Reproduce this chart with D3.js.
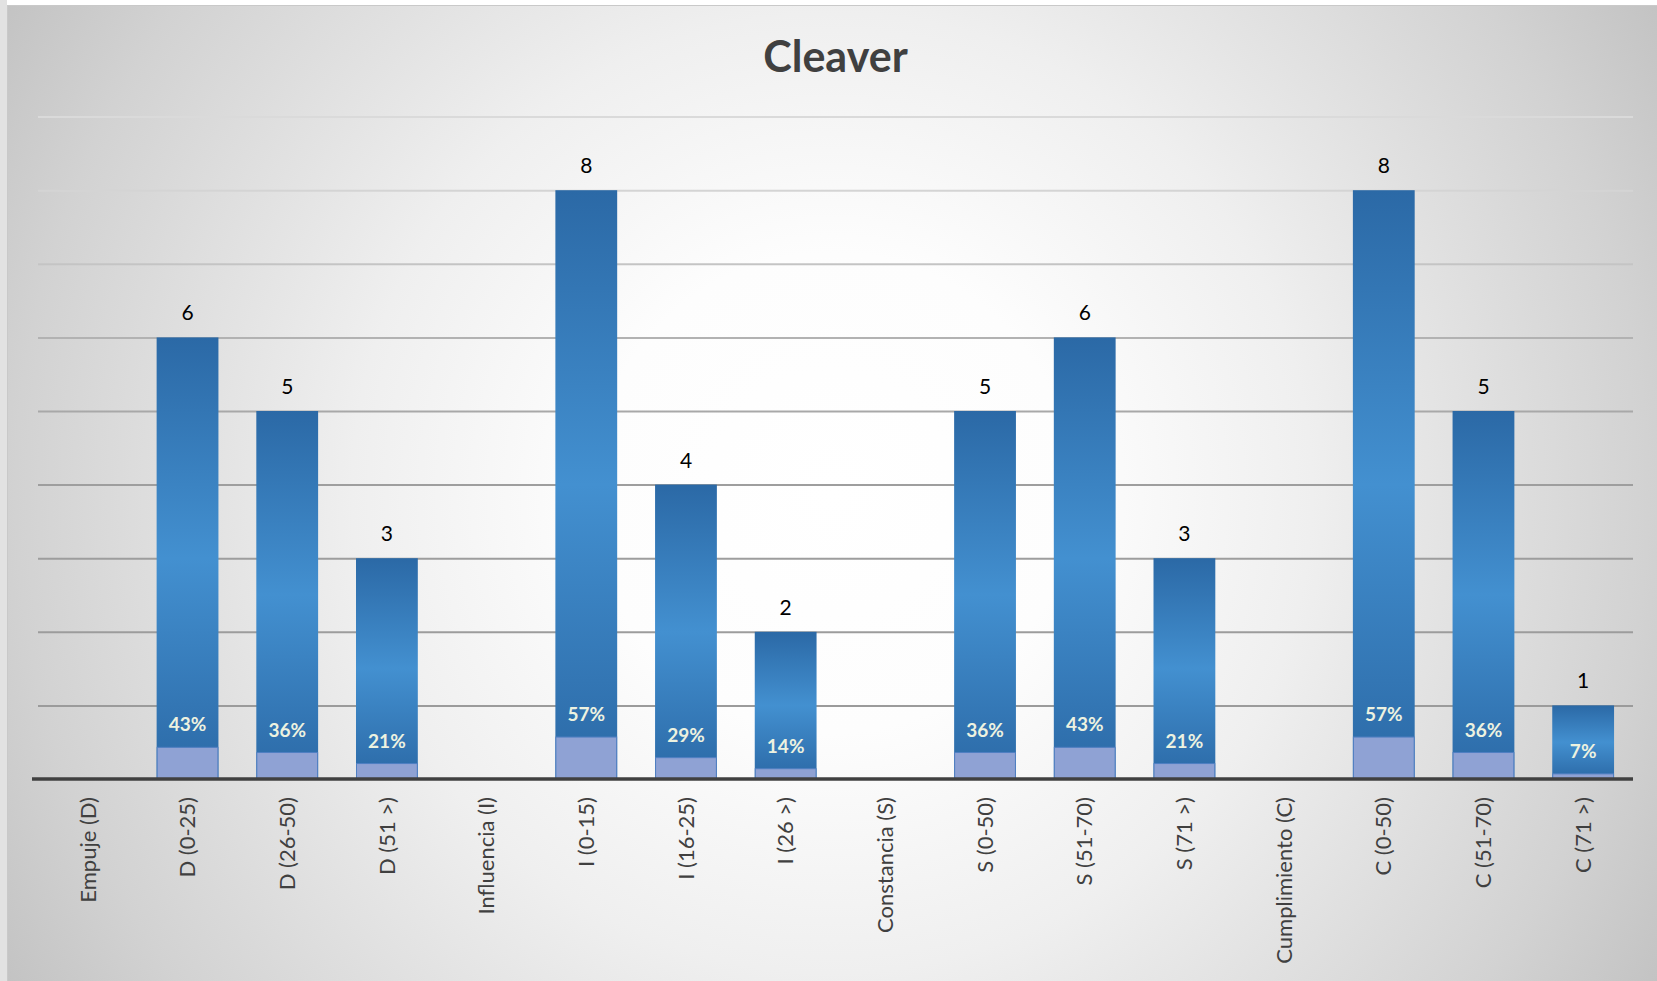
<!DOCTYPE html>
<html>
<head>
<meta charset="utf-8">
<script src="https://cdn.jsdelivr.net/npm/d3@7"></script>
<style>
  html, body { margin: 0; padding: 0; background: #ffffff; }
  svg { display: block; }
  text { font-family: Lato, "Open Sans", "Liberation Sans", sans-serif; }
</style>
</head>
<body>
<svg id="chart" width="1657" height="981"></svg>
<script>
// Cleaver profile: counts per range and their share within each factor
const categories = [
  "Empuje (D)", "D (0-25)", "D (26-50)", "D (51 >)",
  "Influencia (I)", "I (0-15)", "I (16-25)", "I (26 >)",
  "Constancia (S)", "S (0-50)", "S (51-70)", "S (71 >)",
  "Cumplimiento (C)", "C (0-50)", "C (51-70)", "C (71 >)"
];
const counts = [null, 6, 5, 3, null, 8, 4, 2, null, 5, 6, 3, null, 8, 5, 1];
const shares = [null, 0.43, 0.36, 0.21, null, 0.57, 0.29, 0.14, null, 0.36, 0.43, 0.21, null, 0.57, 0.36, 0.07];
const yTicks = [1, 2, 3, 4, 5, 6, 7, 8, 9];
const title = "Cleaver";

const W = 1657, H = 981;
const svg = d3.select("#chart");
const defs = svg.append("defs");

// Soft radial background
const bg = defs.append("radialGradient").attr("id", "bgGrad")
  .attr("gradientUnits", "userSpaceOnUse")
  .attr("cx", 832).attr("cy", 493).attr("r", 960);
[[0, "#ffffff"], [0.25, "#fdfdfd"], [0.5, "#efefef"], [0.85, "#d2d2d2"], [1, "#c3c3c3"]]
  .forEach(([o, c]) => bg.append("stop").attr("offset", o).attr("stop-color", c));

// Bar fill: darker at both ends, lighter in the middle
const barGrad = defs.append("linearGradient").attr("id", "barGrad")
  .attr("x1", 0).attr("y1", 0).attr("x2", 0).attr("y2", 1);
[[0, "#2b69a6"], [0.5, "#4390d0"], [1, "#2b69a6"]]
  .forEach(([o, c]) => barGrad.append("stop").attr("offset", o).attr("stop-color", c));

svg.append("rect").attr("x", 0).attr("y", 0).attr("width", 7).attr("height", H).attr("fill", "#e2e2e2");
svg.append("rect").attr("x", 7.5).attr("y", 5.5).attr("width", W - 7).attr("height", H - 5)
  .attr("fill", "url(#bgGrad)").attr("stroke", "#c9c9c9").attr("stroke-width", 1);

const x = d3.scaleBand().domain(categories).range([38, 1633])
  .paddingInner(0.38).paddingOuter(0.19);
const y = d3.scaleLinear().domain([0, 9]).range([779, 116.6]);

// Gridlines fade towards the top
const gridColor = d3.scaleLinear().domain([0, 4, 6, 7, 8, 9])
  .range(["#9a9a9a", "#9e9e9e", "#b2b2b2", "#c4c4c4", "#d4d4d4", "#dadada"]);
const gridAxis = d3.axisLeft(y).tickValues(yTicks).tickSize(-(1633 - 38)).tickFormat("");
const grid = svg.append("g").attr("transform", "translate(38,0)").call(gridAxis);
grid.select(".domain").remove();
grid.selectAll(".tick line")
  .attr("stroke", d => gridColor(d)).attr("stroke-width", 2);

const data = categories.map((c, i) => ({ cat: c, count: counts[i], share: shares[i] }));
const withValues = data.filter(d => d.count != null);

// Count bars
svg.append("g").selectAll("rect").data(withValues).join("rect")
  .attr("x", d => x(d.cat)).attr("width", x.bandwidth())
  .attr("y", d => y(d.count)).attr("height", d => y(0) - y(d.count))
  .attr("fill", "url(#barGrad)");

// Share bars overlaid on the same band
svg.append("g").selectAll("rect").data(withValues).join("rect")
  .attr("x", d => x(d.cat) + 0.5).attr("width", x.bandwidth() - 1)
  .attr("y", d => y(d.share)).attr("height", d => y(0) - y(d.share))
  .attr("fill", "#8fa2d4").attr("stroke", "#4f7fc2").attr("stroke-width", 1);

// Count labels
svg.append("g").selectAll("text").data(withValues).join("text")
  .attr("x", d => x(d.cat) + x.bandwidth() / 2)
  .attr("y", d => y(d.count) - 17)
  .attr("text-anchor", "middle").attr("font-size", 21).attr("fill", "#000000")
  .text(d => d.count);

// Share labels
const pct = d3.format(".0%");
svg.append("g").selectAll("text").data(withValues).join("text")
  .attr("x", d => x(d.cat) + x.bandwidth() / 2)
  .attr("y", d => y(d.share) - 16)
  .attr("text-anchor", "middle").attr("font-size", 19).attr("font-weight", 700)
  .attr("fill", "#edf2e0")
  .text(d => pct(d.share));

// Category axis
const xAxis = d3.axisBottom(x).tickSize(0).tickPadding(0);
const xg = svg.append("g").attr("transform", `translate(0,${y(0)})`).call(xAxis);
xg.select(".domain").remove();
xg.selectAll(".tick text")
  .attr("transform", "rotate(-90)")
  .attr("x", -18).attr("y", 0).attr("dy", "0.35em")
  .attr("text-anchor", "end")
  .attr("font-size", 22).attr("fill", "#404040")
  .style("font-family", "Lato, 'Open Sans', sans-serif");
svg.append("line").attr("x1", 32).attr("x2", 1633).attr("y1", y(0)).attr("y2", y(0))
  .attr("stroke", "#404040").attr("stroke-width", 3.5);

// Title
svg.append("text").attr("x", (38 + 1633) / 2).attr("y", 72)
  .attr("text-anchor", "middle").attr("font-size", 43).attr("font-weight", 700)
  .attr("fill", "#404040").text(title);
</script>
</body>
</html>
